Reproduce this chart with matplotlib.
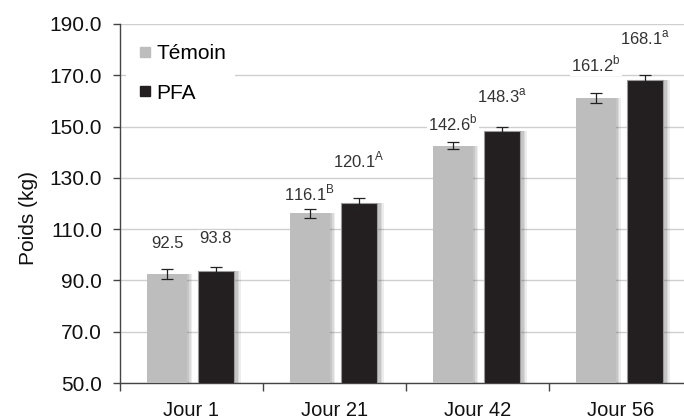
import matplotlib.pyplot as plt
import numpy as np
from matplotlib.lines import Line2D

plt.rcParams['font.family'] = ['Liberation Sans', 'DejaVu Sans']

# data
days = ["Jour 1", "Jour 21", "Jour 42", "Jour 56"]
temoin = [92.5, 116.1, 142.6, 161.2]
pfa = [93.8, 120.1, 148.3, 168.1]
temoin_err = [1.8, 1.8, 1.5, 2.0]
pfa_err = [1.5, 2.0, 1.7, 2.0]
temoin_sup = ["", "B", "b", "b"]
pfa_sup = ["", "A", "a", "a"]

# label offsets above bar tops (points), as placed in the original
temoin_off = [22, 15, 16, 24]
pfa_off = [23, 31, 25, 30]

grey = "#bdbdbe"
black = "#231f20"
txt = "#333333"

fig = plt.figure(figsize=(6.84, 4.2), dpi=100)
ax = fig.add_axes([0.1754, 0.088, 0.836, 0.855])

x = np.arange(len(days))
w = 0.28
off = 0.171

# soft shadow to the right of each bar
for shift, a in [(0.035, 0.10), (0.025, 0.12), (0.015, 0.15)]:
    ax.bar(x - off + shift, temoin, w, bottom=0, color="#555555", alpha=a, zorder=2, linewidth=0)
    ax.bar(x + off + shift, pfa, w, bottom=0, color="#555555", alpha=a, zorder=2, linewidth=0)

ax.bar(x - off, temoin, w, color=grey, zorder=3, linewidth=0)
ax.bar(x + off, pfa, w * 0.9, color=black, zorder=3, edgecolor="#9a9a9a", linewidth=0.8)
ax.errorbar(x - off, temoin, yerr=temoin_err, fmt="none", ecolor="#222222",
            elinewidth=0.9, capsize=4, capthick=0.9, zorder=4)
ax.errorbar(x + off, pfa, yerr=pfa_err, fmt="none", ecolor="#222222",
            elinewidth=0.9, capsize=4, capthick=0.9, zorder=4)

def lab(v, s):
    t = f"{v:.1f}"
    if s:
        t += r"$^{\mathregular{" + s + "}}$"
    return t

for i in range(len(days)):
    ax.annotate(lab(temoin[i], temoin_sup[i]), (x[i] - off, temoin[i]),
                xytext=(0, temoin_off[i]), textcoords="offset points",
                ha="center", va="center", fontsize=12, color=txt, zorder=5,
                bbox=dict(facecolor="white", edgecolor="none", pad=1))
    ax.annotate(lab(pfa[i], pfa_sup[i]), (x[i] + off, pfa[i]),
                xytext=(0, pfa_off[i]), textcoords="offset points",
                ha="center", va="center", fontsize=12, color=txt, zorder=5,
                bbox=dict(facecolor="white", edgecolor="none", pad=1))

ax.set_ylim(50, 190)
ax.set_yticks(np.arange(50, 191, 20))
ax.set_yticklabels([f"{v:.1f}" for v in np.arange(50, 191, 20)])
ax.set_xlim(-0.5, 3.5)
ax.set_xticks(x)
ax.set_xticklabels(days)
ax.set_xticks(np.arange(-0.5, 3.6, 1), minor=True)
ax.tick_params(axis="x", which="major", length=0, pad=13, labelsize=14.5, labelcolor="#111111")
ax.tick_params(axis="x", which="minor", length=6, width=1, color="#444444", direction="out")
ax.tick_params(axis="y", length=5, width=1, color="#444444", labelsize=15,
               labelcolor="#111111", pad=8)
ax.yaxis.grid(True, color="#cfcfcf", linewidth=1)
ax.set_axisbelow(True)
for s in ["top", "right"]:
    ax.spines[s].set_visible(False)
for s in ["left", "bottom"]:
    ax.spines[s].set_color("#444444")
    ax.spines[s].set_linewidth(1)
ax.set_ylabel("Poids (kg)", fontsize=15, color="#111111", labelpad=2)
ax.yaxis.set_label_coords(-0.143, 0.46)

handles = [Line2D([], [], marker="s", linestyle="none", color=grey, markersize=7),
           Line2D([], [], marker="s", linestyle="none", color=black, markersize=7)]
leg = ax.legend(handles, ["Témoin", "PFA"], loc="upper left", bbox_to_anchor=(0.0, 0.985),
                frameon=True, fontsize=15, labelspacing=1.0, handletextpad=0.05,
                handlelength=1.0, borderaxespad=0.3)
leg.get_frame().set_edgecolor("none")
leg.get_frame().set_facecolor("white")
leg.get_frame().set_alpha(1)
leg.set_zorder(6)

fig.savefig("out.png", dpi=100)
